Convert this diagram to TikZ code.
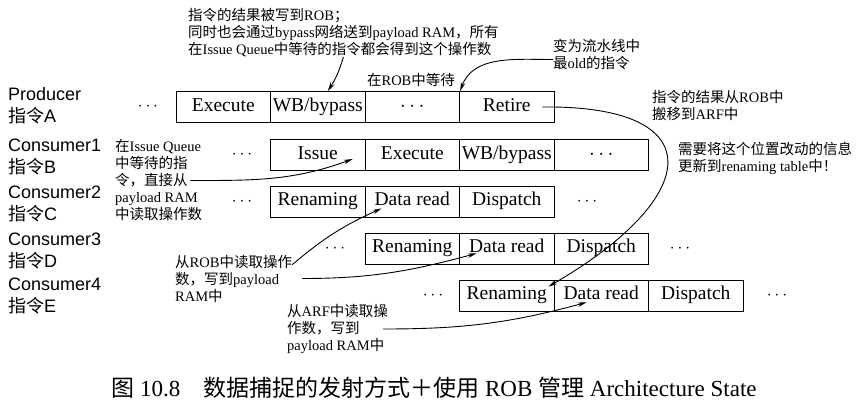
\documentclass[tikz,border=0pt]{standalone}
\usepackage{fontspec}
\setmainfont{Liberation Serif}
\newfontfamily\cjk{Noto Sans CJK SC}
\newfontfamily\labelfont{Liberation Sans}
\usepackage{tikz}
\usetikzlibrary{shapes,arrows,arrows.meta,positioning}

\begin{document}
\begin{tikzpicture}[
  x=1pt, y=-1pt,
  cell/.style={rectangle, draw, line width=0.8pt, minimum width=94.5pt, minimum height=31pt, inner sep=0pt, text height=13pt, text depth=4.5pt, font=\fontsize{19.5}{21}\selectfont},
  dots/.style={inner sep=0pt, font=\fontsize{19}{21}\selectfont},
  rowlabel/.style={align=left, anchor=west, inner sep=0pt, font=\labelfont\fontsize{18}{22}\selectfont},
  note/.style={align=left, anchor=west, inner sep=0pt, font=\fontsize{14.5}{17}\selectfont},
  arrow/.style={->, >={Stealth[length=9pt,width=4.5pt]}, line width=0.9pt}
]
\useasboundingbox (0,0) rectangle (862,408);

% Row labels
\node[rowlabel] (labA) at (8,106) {Producer\\{\cjk 指令}A};
\node[rowlabel] (labB) at (8,157) {Consumer1\\{\cjk 指令}B};
\node[rowlabel] (labC) at (8,204) {Consumer2\\{\cjk 指令}C};
\node[rowlabel] (labD) at (8,251) {Consumer3\\{\cjk 指令}D};
\node[rowlabel] (labE) at (8,296) {Consumer4\\{\cjk 指令}E};

% Producer A
\node[dots] (dotsAl) at (148,107) {$\cdots$};
\node[cell] (exeA) at (223.25,107) {Execute};
\node[cell] (wbA) at (317.75,107) {WB/bypass};
\node[cell] (dotA) at (412.25,107) {$\cdots$};
\node[cell] (retA) at (506.75,107) {Retire};

% Consumer1 B
\node[dots] (dotsBl) at (242,155) {$\cdots$};
\node[cell] (issB) at (317.75,155) {Issue};
\node[cell] (exeB) at (412.25,155) {Execute};
\node[cell] (wbB) at (506.75,155) {WB/bypass};
\node[cell] (dotB) at (601.25,155) {$\cdots$};

% Consumer2 C
\node[dots] (dotsCl) at (242,201.5) {$\cdots$};
\node[cell] (renC) at (317.75,201.5) {Renaming};
\node[cell] (datC) at (412.25,201.5) {Data read};
\node[cell] (dspC) at (506.75,201.5) {Dispatch};
\node[dots] (dotsCr) at (587,201.5) {$\cdots$};

% Consumer3 D
\node[dots] (dotsDl) at (335,248.5) {$\cdots$};
\node[cell] (renD) at (412.25,248.5) {Renaming};
\node[cell] (datD) at (506.75,248.5) {Data read};
\node[cell] (dspD) at (601.25,248.5) {Dispatch};
\node[dots] (dotsDr) at (680,248.5) {$\cdots$};

% Consumer4 E
\node[dots] (dotsEl) at (433,295.5) {$\cdots$};
\node[cell] (renE) at (506.75,295.5) {Renaming};
\node[cell] (datE) at (601.25,295.5) {Data read};
\node[cell] (dspE) at (695.75,295.5) {Dispatch};
\node[dots] (dotsEr) at (777,295.5) {$\cdots$};

% Notes
\node[note] (wbnote) at (188,32.5) {{\cjk 指令的结果被写到}ROB{\cjk ；}\\{\cjk 同时也会通过}bypass{\cjk 网络送到}payload RAM{\cjk ，所有}\\{\cjk 在}Issue Queue{\cjk 中等待的指令都会得到这个操作数}};
\node[note, anchor=center] (waitnote) at (411,80) {{\cjk 在}ROB{\cjk 中等待}};
\node[note] (oldnote) at (553,54.5) {{\cjk 变为流水线中}\\{\cjk 最}old{\cjk 的指令}};
\node[note] (arfnote) at (652,105) {{\cjk 指令的结果从}ROB{\cjk 中}\\{\cjk 搬移到}ARF{\cjk 中}};
\node[note] (rennote) at (678,158.5) {{\cjk 需要将这个位置改动的信息}\\{\cjk 更新到}renaming table{\cjk 中！}};
\node[note] (issnote) at (115,180.5) {{\cjk 在}Issue Queue\\{\cjk 中等待的指}\\{\cjk 令，直接从}\\payload RAM\\{\cjk 中读取操作数}};
\node[note] (robnote) at (175,278.5) {{\cjk 从}ROB{\cjk 中读取操作}\\{\cjk 数，写到}payload\\RAM{\cjk 中}};
\node[note] (arfread) at (287,329) {{\cjk 从}ARF{\cjk 中读取操}\\{\cjk 作数，写到}\\payload RAM{\cjk 中}};

% Caption
\node[inner sep=0pt, font=\fontsize{23}{26}\selectfont] (caption) at (434,388) {{\cjk 图} 10.8\quad{\cjk 数据捕捉的发射方式＋使用} ROB {\cjk 管理} Architecture State};

% Arrows
\draw[arrow] (wbnote.south) to[bend left=8] ([xshift=10pt]wbA.north);
\draw[arrow] ([yshift=-5pt]oldnote.west) to[out=180,in=70] ([xshift=1pt]retA.north west);
\draw[arrow] ([xshift=-12pt]retA.east) .. controls +(170,-2) and +(155,-90) .. ([xshift=-6pt,yshift=-7pt]renE.north east);
\draw[arrow] ([xshift=-12pt]issnote.east) to[out=0,in=200] ([xshift=35pt,yshift=-4pt]issB.center);
\draw[arrow] ([yshift=-10pt]robnote.north east) to[bend left=8] ([xshift=17pt,yshift=9pt]datC.south west);
\draw[arrow] ([xshift=10pt]robnote.east) to[out=0,in=195] ([xshift=17.5pt,yshift=11pt]datD.south west);
\draw[arrow] ([xshift=-5pt]arfread.east) to[out=0,in=195] ([xshift=33pt,yshift=9pt]datE.south west);

\end{tikzpicture}
\end{document}
